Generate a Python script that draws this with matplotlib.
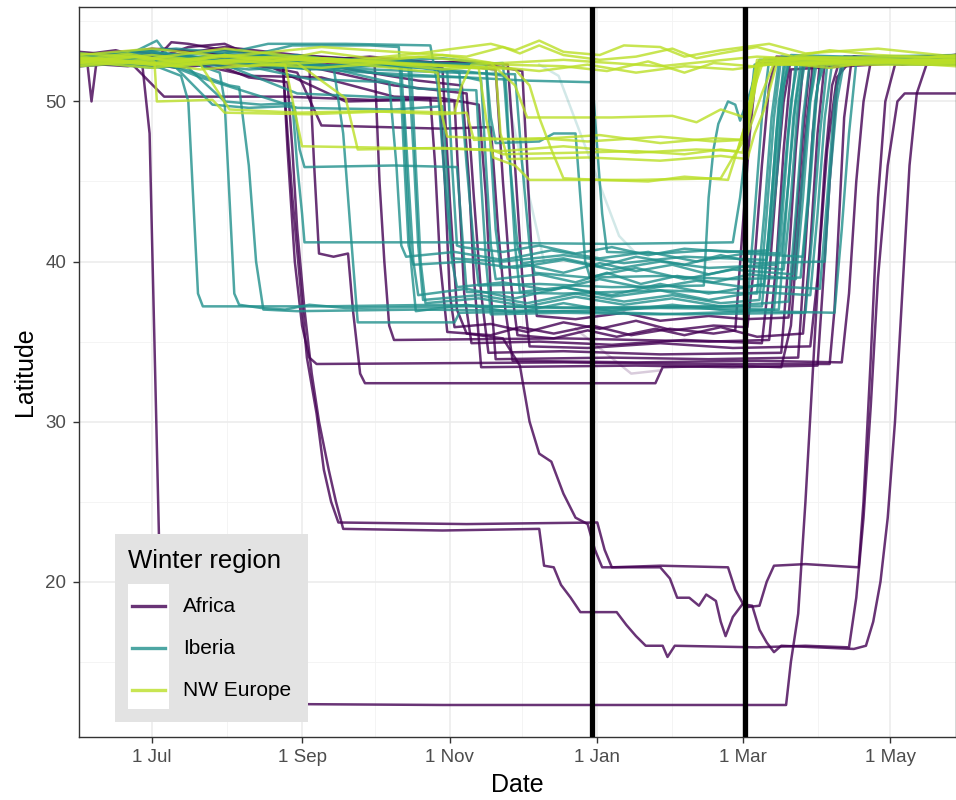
import numpy as np
import matplotlib
matplotlib.use("Agg")
import matplotlib.pyplot as plt
import matplotlib.dates as mdates
from matplotlib.ticker import FuncFormatter, MultipleLocator
from matplotlib.patches import Rectangle
from matplotlib.lines import Line2D

plt.rcParams["font.family"] = ["Liberation Sans", "DejaVu Sans"]

season_start = np.datetime64("2019-06-01")

# each track: (days since 1 Jun 2019, latitude)
africa = [
    [(0,52.5),(3,52.8),(5,50.0),(7,52.4),(18,52.9),(26,52.3),(29,48),(31,35),(33,22),(36,14),(39,12.4),(150,12.3),(292,12.3),(294,15),(297,18),(300,25),(303,33),(306,41),(309,47),(313,51.5),(320,52.8),(340,52.3),(362,52.7)],
    [(0,52.9),(15,53.2),(30,52.6),(45,53.4),(60,53.6),(72,52.8),(84,52.4),(86,48),(88,44),(91,39),(94,34),(98,30.5),(101,27),(104,25),(107,23.7),(160,23.6),(214,23.7),(217,22),(220,20.9),(240,21.0),(268,20.9),(271,19.5),(275,18.4),(281,18.5),(284,20),(287,21),(300,21.1),(322,20.9),(324,25),(327,34),(330,44),(333,50),(337,52.3),(362,52.9)],
    [(0,52.4),(20,52.2),(38,52.7),(55,52.4),(70,51.5),(86,51.2),(88,47),(90,42),(93,37),(96,33),(99,30),(103,27),(106,25),(109,23.3),(150,23.2),(190,23.3),(192,21),(196,20.9),(199,19.8),(203,19.0),(207,18.1),(222,18.1),(226,17.3),(230,16.6),(234,16.0),(241,16.0),(243,15.3),(246,16.0),(280,15.9),(300,16.0),(318,15.9),(321,19),(324,24),(327,31),(330,39),(334,46),(338,50),(341,50.5),(362,50.5)],
    [(0,52.7),(25,53.1),(50,52.5),(70,52.9),(100,52.3),(130,52.6),(150,52.1),(153,44),(156,37),(160,35.5),(175,35.2),(182,33.5),(186,30),(190,28),(195,27.5),(200,25.5),(205,24),(210,23.6),(213,22),(216,20.9),(240,20.9),(244,20.2),(247,19.0),(252,19.0),(256,18.5),(259,19.2),(263,18.8),(265,17.5),(267,16.6),(270,17.8),(274,18.6),(278,18.5),(281,17),(284,16.2),(287,15.6),(290,16.0),(320,15.8),(325,16.0),(328,17.5),(331,20),(334,24),(337,30),(340,38),(343,46),(346,50.5),(350,52.3),(362,52.5)],
    [(0,52.3),(20,52.6),(40,52.1),(60,52.4),(80,52.6),(95,52.3),(97,46),(99,40.5),(105,40.3),(111,40.5),(113,37),(116,33),(118,32.4),(180,32.4),(238,32.4),(241,33.4),(270,33.5),(290,33.4),(294,36),(297,42),(300,48),(303,52.2),(320,52.8),(362,52.4)],
    [(0,52.9),(20,52.5),(45,52.8),(70,52.4),(84,52.6),(86,47),(89,40),(92,36),(95,34),(98,33.6),(200,33.7),(250,33.6),(310,33.6),(312,37),(314,43),(316,49),(319,52.5),(362,52.9)],
    [(0,53.0),(30,52.4),(38,53.7),(45,53.6),(60,53.2),(90,52.7),(110,52.5),(122,52.3),(124,45),(126,40),(128,36),(130,35.1),(200,35.2),(260,35.0),(285,35.1),(288,40),(291,47),(294,52),(362,52.6)],
    [(0,52.4),(30,52.9),(60,52.2),(90,52.5),(120,52.8),(148,52.4),(151,45),(153,38),(155,35.9),(170,36.1),(185,35.6),(200,36.2),(215,35.8),(230,36.3),(245,35.7),(262,36.0),(276,35.9),(279,40),(282,46),(285,51),(288,52.8),(362,52.3)],
    [(0,52.8),(25,52.3),(50,52.6),(80,52.1),(110,50.0),(140,50.1),(155,50.0),(157,44),(159,38),(162,34.9),(190,35.0),(220,34.8),(250,35.1),(282,34.9),(285,39),(288,45),(291,50),(294,52.7),(362,52.8)],
    [(0,52.6),(30,53.3),(60,52.9),(100,52.0),(130,51.0),(160,50.5),(163,44),(166,38),(169,34.3),(200,34.4),(240,34.2),(290,34.3),(293,40),(296,47),(299,52.2),(362,52.6)],
    [(0,52.2),(40,52.6),(70,51.6),(100,51.5),(130,50.3),(150,50.2),(165,49.8),(168,44),(170,38),(172,33.9),(220,34.0),(260,33.9),(297,34.0),(300,41),(303,48),(306,52.4),(362,52.3)],
    [(0,53.1),(30,52.7),(60,53.4),(90,52.9),(120,52.6),(160,52.2),(172,52.0),(175,45),(178,39),(181,35.4),(196,35.2),(210,35.7),(222,35.3),(238,35.8),(250,35.4),(265,35.9),(280,35.3),(299,35.5),(302,41),(305,48),(308,52.5),(362,52.9)],
    [(0,52.5),(25,52.9),(60,52.3),(95,52.8),(130,52.5),(165,52.4),(183,51.9),(185,46),(187,40),(189,36.6),(205,36.4),(225,36.8),(240,36.3),(260,36.6),(275,36.4),(293,36.5),(296,42),(299,48),(302,52.6),(362,52.5)],
    [(0,52.7),(30,52.4),(60,52.8),(100,52.3),(140,51.3),(158,51.0),(161,45),(163,39),(166,33.4),(230,33.5),(270,33.4),(305,33.5),(307,38),(310,45),(313,51),(316,52.8),(362,52.7)],
    [(0,52.3),(20,52.6),(35,50.3),(85,50.3),(120,50.1),(145,50.2),(147,46),(149,40),(152,35.6),(170,35.4),(182,35.9),(196,35.5),(212,36.0),(228,35.4),(244,35.8),(262,35.5),(271,35.7),(274,42),(277,48),(280,52.4),(362,52.4)],
    [(0,52.9),(35,53.3),(70,52.8),(105,52.5),(135,52.3),(160,52.5),(177,52.3),(180,46),(183,39),(186,34.7),(210,34.6),(240,34.9),(270,34.6),(302,34.7),(305,39),(308,46),(311,51),(314,52.5),(362,52.7)],
    [(0,52.6),(30,52.2),(60,52.7),(90,51.8),(100,48.5),(150,48.3),(170,48.4),(173,42),(176,37),(179,33.8),(230,33.7),(280,33.8),(315,33.7),(318,38),(321,45),(324,50),(327,52.5),(362,52.6)],
]

iberia = [
    [(0,52.4),(15,52.9),(30,52.3),(42,51.6),(45,50),(47,44),(49,38),(51,37.2),(100,37.2),(150,37.3),(200,37.1),(250,37.2),(282,37.2),(285,42),(288,48),(291,52.3),(362,52.5)],
    [(0,52.7),(25,52.3),(45,52.5),(58,51.8),(60,50),(62,44),(64,38),(66,37.3),(75,37.1),(85,37.0),(95,37.3),(110,37.1),(160,37.2),(220,37.1),(276,37.2),(279,43),(282,49),(285,52.6),(362,52.6)],
    [(0,53.0),(20,52.6),(40,52.8),(60,50.0),(75,49.8),(88,49.9),(90,46),(92,43),(93,41.2),(150,41.2),(220,41.1),(270,41.2),(273,44),(276,48),(279,52.3),(362,52.7)],
    [(0,52.5),(20,52.9),(32,53.8),(40,52.2),(62,51.0),(66,50.9),(70,46),(73,40),(76,37.0),(90,36.9),(140,37.0),(200,36.9),(240,37.1),(287,37.0),(290,42),(293,48),(296,52.4),(362,52.3)],
    [(0,52.8),(30,52.4),(60,53.0),(78,53.6),(110,53.6),(145,53.5),(148,51),(151,45),(154,40.2),(175,40.0),(200,40.4),(225,39.9),(250,40.3),(284,40.1),(287,45),(290,50),(293,52.7),(362,52.9)],
    [(0,52.3),(20,52.7),(40,52.1),(55,49.8),(70,49.6),(85,49.7),(89,49.6),(91,47),(93,45.9),(130,46.0),(156,45.9),(158,42),(160,38.1),(200,38.0),(240,38.2),(280,38.0),(283,43),(286,49),(289,52.5),(362,52.4)],
    [(0,52.6),(25,53.2),(50,52.7),(80,52.4),(105,52.2),(109,48),(112,42),(115,36.2),(155,36.2),(157,36.8),(200,36.9),(250,36.7),(300,36.8),(303,42),(306,48),(309,52.3),(362,52.6)],
    [(0,52.9),(30,52.5),(60,52.9),(90,52.4),(120,52.6),(150,52.4),(168,52.3),(170,49),(172,47.4),(190,47.5),(196,48.0),(205,48.0),(207,44),(209,40),(211,39.0),(240,39.1),(270,38.9),(298,39.0),(301,44),(304,50),(307,52.6),(362,52.8)],
    [(0,52.4),(40,52.8),(80,52.2),(120,51.8),(160,51.5),(185,51.3),(212,51.2),(214,47),(216,43),(218,40.6),(240,40.5),(260,40.7),(290,40.5),(293,45),(296,50),(299,52.5),(362,52.5)],
    [(0,52.7),(30,52.3),(60,52.6),(90,52.1),(120,52.4),(150,52.0),(157,51.8),(160,46),(163,41),(165,38.5),(190,38.6),(220,38.4),(258,38.5),(260,44),(262,47),(264,48.6),(268,50.0),(271,49.8),(273,48.8),(277,50.5),(281,52.6),(362,52.8)],
    [(0,53.0),(30,52.6),(60,53.2),(90,52.8),(120,52.5),(150,52.7),(168,52.4),(170,47),(172,42),(174,39.6),(185,39.8),(200,39.3),(215,39.9),(230,39.4),(245,39.8),(260,39.2),(275,39.7),(291,39.5),(294,44),(297,50),(300,52.6),(362,52.7)],
    [(0,52.5),(30,52.9),(60,52.3),(90,50.5),(120,50.3),(134,50.2),(136,45),(138,40),(140,37.9),(160,38.3),(180,37.7),(200,38.4),(220,37.8),(240,38.2),(260,37.6),(280,38.1),(302,37.9),(305,43),(308,49),(311,52.4),(362,52.5)],
    [(0,52.2),(35,52.6),(70,52.0),(110,52.3),(140,52.1),(152,51.9),(154,46),(156,41),(158,40.9),(175,40.6),(190,41.0),(205,40.5),(220,40.9),(235,40.4),(250,40.8),(268,40.6),(285,40.7),(288,45),(291,51),(294,52.9),(362,52.6)],
    [(0,52.8),(30,52.4),(60,52.9),(100,52.3),(130,51.6),(160,51.5),(166,51.3),(168,46),(170,41),(172,38.9),(190,39.2),(205,38.7),(218,39.3),(232,38.6),(247,39.1),(262,38.7),(277,39.2),(296,38.9),(299,44),(302,50),(305,52.7),(362,52.6)],
    [(0,52.6),(30,52.2),(60,52.6),(95,52.0),(133,52.3),(135,46),(137,40),(139,36.9),(160,37.3),(180,36.8),(200,37.4),(220,36.9),(245,37.3),(270,36.9),(289,37.0),(292,43),(295,49),(298,52.4),(362,52.4)],
    [(0,52.9),(40,53.3),(80,52.8),(120,52.6),(150,52.3),(175,52.4),(178,46),(181,41),(183,39.9),(200,40.2),(215,39.7),(230,40.3),(250,39.8),(265,40.4),(280,39.9),(308,40.0),(310,45),(313,50),(316,52.5),(362,52.8)],
    [(0,52.3),(30,52.7),(50,51.5),(90,49.6),(130,49.5),(150,49.7),(152,45),(154,40),(156,38.4),(175,38.7),(195,38.2),(215,38.9),(235,38.3),(255,38.8),(275,38.4),(283,38.6),(286,44),(289,50),(292,52.6),(362,52.3)],
    [(0,52.7),(30,53.1),(60,52.6),(90,52.9),(120,52.3),(136,52.1),(138,47),(140,41),(142,37.6),(165,37.9),(185,37.4),(205,38.0),(225,37.5),(245,37.9),(265,37.4),(281,37.6),(284,43),(287,49),(290,52.8),(362,52.7)],
    [(0,52.4),(40,52.8),(80,52.3),(120,52.0),(155,51.8),(180,51.7),(183,46),(186,41),(188,39.3),(210,39.0),(230,39.6),(250,38.9),(270,39.5),(295,39.2),(298,44),(301,49),(304,52.5),(362,52.5)],
    [(0,52.6),(35,52.3),(70,52.7),(100,52.2),(140,50.8),(164,50.7),(166,45),(168,40),(170,36.7),(200,36.8),(240,36.7),(280,36.9),(312,36.8),(315,42),(318,48),(321,52.5),(362,52.6)],
    [(0,52.5),(30,52.1),(60,52.5),(95,51.4),(128,51.2),(131,46),(133,41),(135,40.3),(155,40.6),(175,40.1),(195,40.7),(215,40.2),(235,40.6),(255,40.0),(275,40.5),(299,40.3),(302,45),(305,51),(308,52.4),(362,52.4)],
    [(0,52.8),(40,52.4),(80,52.9),(115,52.5),(137,52.3),(139,46),(141,40),(143,37.4),(165,37.7),(185,37.2),(205,37.8),(225,37.3),(245,37.7),(265,37.2),(293,37.5),(296,43),(299,49),(302,52.7),(362,52.6)],
    [(0,52.3),(35,52.8),(70,52.4),(105,52.6),(140,52.2),(176,51.6),(178,46),(180,41),(182,38.1),(200,38.4),(220,37.9),(240,38.6),(260,38.0),(280,38.5),(306,38.3),(309,44),(312,50),(315,52.5),(362,52.3)],
    [(0,52.6),(30,53.0),(60,52.5),(88,53.5),(120,53.5),(132,53.4),(134,47),(136,41),(138,39.8),(160,40.0),(180,39.6),(200,40.1),(220,39.5),(240,40.0),(260,39.6),(288,39.8),(291,45),(294,50),(297,52.6),(362,52.7)],
]

nw_europe = [
    [(0,52.6),(20,53.0),(40,52.4),(60,52.9),(80,52.5),(100,53.1),(120,52.7),(140,53.0),(160,52.8),(175,53.4),(182,53.0),(190,53.5),(200,52.9),(215,52.6),(230,52.8),(245,53.3),(255,52.7),(265,53.0),(280,53.4),(295,52.8),(310,53.2),(330,52.9),(362,52.7)],
    [(0,52.2),(25,52.5),(50,52.0),(75,52.3),(100,52.1),(125,52.4),(150,52.0),(170,52.2),(190,51.9),(210,52.3),(230,51.8),(250,52.2),(270,52.0),(290,52.4),(310,52.1),(330,52.5),(362,52.2)],
    [(0,53.0),(30,52.7),(60,53.3),(90,52.8),(120,52.5),(150,52.9),(175,52.3),(200,52.2),(218,51.9),(235,52.5),(250,51.8),(262,52.4),(278,52.2),(300,52.7),(330,52.4),(362,52.9)],
    [(0,52.4),(25,52.8),(50,52.3),(62,49.5),(90,49.3),(120,49.4),(150,49.2),(160,49.3),(163,47.6),(190,47.7),(210,47.5),(240,47.8),(262,47.5),(274,47.6),(277,50),(280,52.4),(300,52.8),(362,52.5)],
    [(0,52.7),(30,52.3),(60,52.8),(90,52.4),(110,50.2),(115,47.0),(150,47.1),(175,46.9),(200,47.2),(230,46.8),(255,47.0),(272,46.9),(276,49),(280,52.6),(362,52.6)],
    [(0,52.5),(30,52.9),(60,52.4),(100,52.7),(140,52.3),(165,52.1),(168,49),(171,46.5),(180,46.0),(186,45.1),(230,45.1),(265,45.2),(270,46.5),(276,47.9),(282,50.5),(287,52.4),(362,52.6)],
    [(0,52.8),(30,52.4),(60,52.9),(100,52.5),(140,52.8),(170,52.4),(180,51.0),(185,49.0),(220,49.0),(245,49.1),(255,48.7),(265,49.5),(275,49.0),(278,50.5),(283,52.7),(362,52.8)],
    [(0,52.3),(35,52.7),(70,52.2),(105,52.5),(140,52.3),(172,52.0),(174,48),(177,46.4),(210,46.5),(240,46.3),(265,46.6),(276,46.4),(279,48),(283,49.5),(288,52.3),(362,52.3)],
    [(0,52.9),(30,53.3),(60,52.8),(100,53.4),(140,53.0),(170,53.6),(180,53.2),(190,53.8),(200,53.1),(215,52.9),(225,53.5),(240,53.4),(250,52.8),(265,53.2),(285,53.6),(300,53.0),(330,53.3),(362,52.8)],
    [(0,52.6),(40,52.2),(80,52.7),(110,52.4),(135,52.0),(148,51.8),(150,49),(152,47.8),(185,47.6),(215,47.9),(240,47.4),(262,47.7),(275,47.6),(278,50),(281,52.5),(362,52.4)],
    [(0,52.4),(20,52.9),(31,52.5),(32,50.0),(55,50.1),(60,49.3),(95,49.2),(130,49.4),(155,49.3),(158,51),(162,52.3),(200,52.6),(240,52.2),(280,52.8),(320,52.5),(362,52.4)],
    [(0,52.7),(40,52.3),(80,52.8),(120,52.5),(160,52.2),(180,52.0),(186,51),(190,49),(195,47),(200,45.2),(215,45.1),(235,45.0),(250,45.3),(268,45.1),(272,47),(276,49),(280,52.3),(362,52.6)],
    [(0,52.5),(30,52.1),(60,52.6),(85,52.3),(92,47.2),(130,47.1),(170,47.0),(175,46.7),(205,46.8),(230,46.9),(250,46.7),(265,47.0),(274,46.8),(277,49),(281,52.3),(362,52.5)],
]

# tracks with long gaps, drawn faint
faded = [
    ("Iberia", [(190,52.3),(198,51.6),(223,41.6),(230,40.5)]),
    ("Iberia", [(170,52.0),(175,51.5),(186,44),(192,40)]),
    ("Africa", [(205,35.8),(228,33.0),(240,33.2)]),
]

regions = ["Africa", "Iberia", "NW Europe"]
region_tracks = {"Africa": africa, "Iberia": iberia, "NW Europe": nw_europe}
colors = {"Africa": "#440154", "Iberia": "#21908C", "NW Europe": "#BBDF27"}
window = ["2019-12-30", "2020-03-02"]


def to_xy(track):
    days, lat = zip(*track)
    return season_start + np.array(days).astype("timedelta64[D]"), np.array(lat)


fig = plt.figure(figsize=(9.56, 8), dpi=100)
ax = fig.add_axes([79 / 956, 63 / 800, 877 / 956, 730 / 800])

for region, track in faded:
    x, y = to_xy(track)
    ax.plot(x, y, color=colors[region], lw=1.8, alpha=0.2)

for region in regions:
    for track in region_tracks[region]:
        x, y = to_xy(track)
        ax.plot(x, y, color=colors[region], lw=1.8, alpha=0.8, solid_joinstyle="round")

for d in window:
    ax.axvline(np.datetime64(d), color="black", lw=3.8, zorder=4)

start_h = season_start.astype("datetime64[h]")
ax.set_xlim(start_h - 4, start_h + 362 * 24 + 5)
ax.set_ylim(10.3, 55.9)

ax.xaxis.set_major_locator(mdates.MonthLocator(bymonth=[1, 3, 5, 7, 9, 11]))
ax.xaxis.set_minor_locator(mdates.MonthLocator(bymonth=[2, 4, 6, 8, 10, 12]))
ax.xaxis.set_major_formatter(FuncFormatter(
    lambda v, p: f"{mdates.num2date(v).day} {mdates.num2date(v):%b}"))
ax.yaxis.set_major_locator(MultipleLocator(10))
ax.yaxis.set_minor_locator(MultipleLocator(5))

ax.grid(which="major", color="#EBEBEB", lw=1.1, zorder=0)
ax.grid(which="minor", color="#F3F3F3", lw=0.6, zorder=0)
ax.set_axisbelow(True)
for s in ax.spines.values():
    s.set_color("#333333")
    s.set_linewidth(1.0)
ax.tick_params(which="major", length=4, width=1.0, color="#333333",
               labelcolor="#4D4D4D", labelsize=13.5, pad=5)
ax.tick_params(which="minor", length=0)

ax.set_xlabel("Date", fontsize=18, color="black", labelpad=5)
ax.set_ylabel("Latitude", fontsize=18, color="black", labelpad=6)

# legend box inside the panel
fig.add_artist(Rectangle((115 / 956, 78 / 800), 193 / 956, 188 / 800,
                         transform=fig.transFigure, facecolor="#E3E3E3",
                         edgecolor="none", zorder=5))
fig.add_artist(Rectangle((128 / 956, 91 / 800), 41 / 956, 125 / 800,
                         transform=fig.transFigure, facecolor="white",
                         edgecolor="none", zorder=6))
fig.text(128 / 956, 1 - 561 / 800, "Winter region", fontsize=18.5,
         va="center", ha="left", zorder=7)
for i, region in enumerate(regions):
    ypos = 1 - (606 + 42 * i) / 800
    fig.add_artist(Line2D([132 / 956, 165 / 956], [ypos, ypos],
                          transform=fig.transFigure, color=colors[region],
                          alpha=0.8, lw=2.4, zorder=7))
    fig.text(183 / 956, ypos, region, fontsize=15, va="center", ha="left", zorder=7)

fig.savefig("out.png", dpi=100)
